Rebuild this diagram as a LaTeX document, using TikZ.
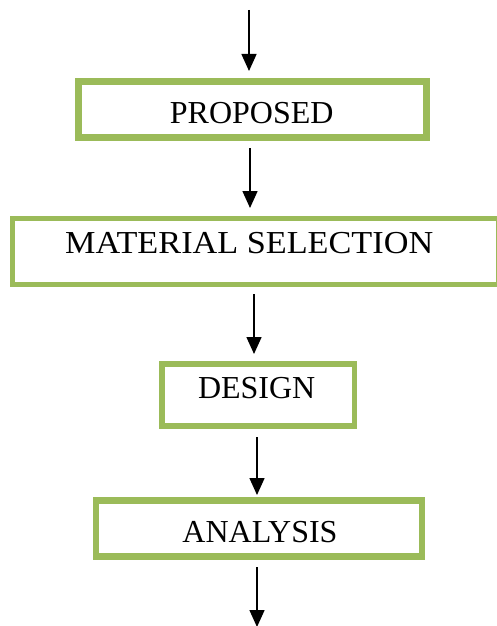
\documentclass[tikz,border=0pt]{standalone}
\usepackage{fontspec}
\setmainfont{Liberation Serif}
\usetikzlibrary{arrows.meta}
\definecolor{boxgreen}{HTML}{9BBB59}
\tikzset{
  box/.style={draw=boxgreen, fill=white, rectangle, inner sep=0pt, outer sep=0pt},
  lbl/.style={anchor=base, inner sep=0pt, font=\fontsize{32}{38}\selectfont},
  arr/.style={draw=black, line width=1.5pt, -{Triangle[length=17pt,width=15pt]}}
}
\begin{document}
\begin{tikzpicture}[x=1pt,y=-1pt]
\useasboundingbox (0,0) rectangle (497,626);
% boxes
\node[box, line width=7pt, minimum width=348pt, minimum height=56.5pt] (p) at (252.5,109.25) {};
\node[box, line width=5pt, minimum width=486pt, minimum height=66pt] (m) at (255,251) {};
\node[box, line width=5.5pt, minimum width=192.3pt, minimum height=61.6pt] (d) at (258.35,395) {};
\node[box, line width=6.5pt, minimum width=326pt, minimum height=56.4pt] (a) at (259,528.5) {};
% texts
\node[lbl] (pt) at (251.7,123.3) {PROPOSED};
\node[lbl] (mt) at (249.2,253.3) {\scalebox{1.07}[1]{MATERIAL SELECTION}};
\node[lbl] (dt) at (256.7,398.3) {DESIGN};
\node[lbl] (at) at (260,542.3) {ANALYSIS};
% free ends
\coordinate (top) at (249,10);
\coordinate (bot) at (257,627);
% arrows
\draw[arr] (top) -- ([xshift=-3.5pt,yshift=10pt]p.north);
\draw[arr] ([xshift=-2.5pt,yshift=-10.5pt]p.south) -- ([xshift=-5pt,yshift=10pt]m.north);
\draw[arr] ([xshift=-1pt,yshift=-10pt]m.south) -- ([xshift=-4.35pt,yshift=10.2pt]d.north);
\draw[arr] ([xshift=-1.35pt,yshift=-11.2pt]d.south) -- ([xshift=-2pt,yshift=5.3pt]a.north);
\draw[arr] ([xshift=-2pt,yshift=-10.3pt]a.south) -- (bot);
\end{tikzpicture}
\end{document}
